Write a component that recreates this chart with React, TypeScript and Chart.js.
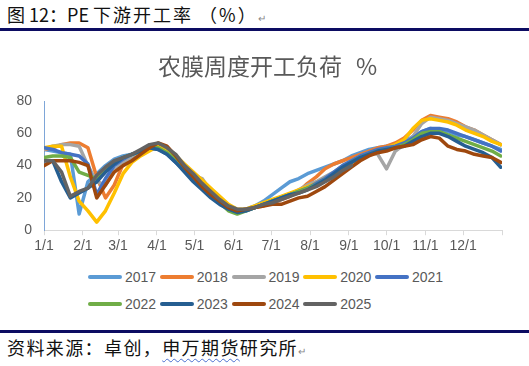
import React, { useEffect, useRef } from "react";
import { Chart, registerables } from "chart.js";

Chart.register(...registerables);

// x positions (day of year, weekly)
const weekDays = [0, 7, 14, 21, 28, 35, 42, 49, 56, 63, 70, 77, 84, 91, 98, 105, 112, 119, 126, 133, 140, 147, 154, 161, 168, 175, 182, 189, 196, 203, 210, 217, 224, 231, 238, 245, 252, 259, 266, 273, 280, 287, 294, 301, 308, 315, 322, 329, 336, 343, 350, 357, 364];

const tickDays = [0, 31, 59, 90, 120, 151, 181, 212, 243, 273, 304, 334, 365];
const tickLabels = ["1/1", "2/1", "3/1", "4/1", "5/1", "6/1", "7/1", "8/1", "9/1", "10/1", "11/1", "12/1", ""];

const yTicks = [0, 20, 40, 60, 80];

const years = ["2017", "2018", "2019", "2020", "2021", "2022", "2023", "2024", "2025"];
const colors = ["#5B9BD5", "#ED7D31", "#A5A5A5", "#FFC000", "#4472C4", "#70AD47", "#255E91", "#9E480E", "#636363"];

const s2017 = [50, 49, 48, 47, 10, 30, 35, 40, 44, 46, 47, 49, 51, 51, 48, 43, 38, 32, 27, 22, 18, 14, 12, 13, 15, 18, 22, 26, 30, 32, 35, 37, 39, 41, 43, 46, 48, 50, 51, 52, 53, 55, 58, 61, 63, 62, 61, 59, 58, 56, 54, 52, 50];
const s2018 = [50, 51, 53, 54, 54, 51, 33, 20, 28, 41, 46, 48, 50, 52, 50, 45, 40, 33, 28, 23, 19, 15, 12, 13, 14, 15, 17, 19, 21, 24, 29, 33, 38, 41, 43, 45, 47, 49, 51, 52, 54, 57, 62, 68, 71, 70, 69, 67, 64, 62, 59, 56, 53];
const s2019 = [50, 52, 53, 53, 52, 40, 30, 28, 37, 42, 45, 48, 50, 51, 49, 45, 40, 34, 32, 24, 19, 14, 12, 13, 14, 16, 18, 20, 22, 25, 28, 30, 33, 36, 40, 43, 46, 48, 47, 38, 49, 53, 58, 66, 70, 69, 68, 66, 64, 62, 59, 56, 53];
const s2020 = [51, 52, 52, 33, 18, 12, 5, 12, 23, 35, 42, 46, 49, 52, 50, 46, 41, 36, 31, 26, 21, 16, 13, 13, 15, 17, 19, 21, 23, 25, 27, 29, 32, 35, 38, 42, 45, 47, 49, 51, 53, 56, 63, 68, 69, 68, 67, 65, 62, 60, 58, 55, 53];
const s2021 = [51, 50, 48, 47, 46, 41, 22, 32, 40, 44, 47, 49, 51, 50, 47, 42, 37, 31, 26, 21, 17, 13, 11, 12, 14, 16, 18, 20, 22, 24, 26, 29, 32, 36, 40, 43, 46, 48, 50, 51, 52, 54, 57, 61, 63, 63, 62, 60, 58, 56, 54, 52, 49];
const s2022 = [45, 46, 46, 45, 36, 34, 32, 38, 42, 45, 47, 49, 51, 51, 48, 44, 39, 33, 28, 22, 17, 12, 10, 12, 14, 16, 18, 20, 22, 24, 26, 28, 31, 34, 38, 42, 45, 47, 49, 50, 51, 53, 56, 60, 61, 61, 59, 57, 55, 53, 51, 49, 46];
const s2023 = [43, 43, 30, 20, 23, 26, 30, 36, 41, 45, 47, 49, 51, 50, 47, 42, 36, 30, 25, 20, 16, 13, 11, 12, 14, 16, 18, 20, 22, 23, 25, 28, 31, 35, 39, 42, 45, 47, 49, 50, 51, 52, 55, 58, 60, 60, 58, 55, 52, 50, 48, 45, 39];
const s2024 = [40, 43, 43, 43, 42, 40, 20, 28, 36, 40, 43, 47, 51, 54, 52, 46, 39, 33, 27, 22, 18, 14, 12, 13, 14, 15, 16, 16, 18, 20, 21, 24, 27, 31, 35, 39, 43, 46, 48, 49, 51, 52, 53, 56, 58, 57, 52, 50, 49, 47, 46, 45, 42];
const s2025 = [43, 43, 36, 21, 24, 26, 34, 39, 43, 45, 47, 50, 53, 54, 51, 47, 40, 35, 29, 24, 19, 15, 13, 13, 14, 16, 17, 19, 21, 23, 25, 27, 30, 33, 37, 40];

const seriesValues = [s2017, s2018, s2019, s2020, s2021, s2022, s2023, s2024, s2025];

const chartTitle = "农膜周度开工负荷";
const chartUnit = "%";

const TEXT = "#595959";
const LATIN = '"Liberation Sans", Arial, sans-serif';
const CJK = '"Noto Sans CJK SC", "Noto Sans", sans-serif';

export default function App() {
  const ref = useRef<HTMLCanvasElement | null>(null);

  useEffect(() => {
    if (!ref.current) return;
    const datasets = years.map((y, k) => ({
      label: y,
      data: seriesValues[k].map((v, i) => ({ x: weekDays[i], y: v })),
      borderColor: colors[k],
      backgroundColor: colors[k],
      borderWidth: 3.5,
      pointRadius: 0,
      pointHoverRadius: 0,
      tension: 0,
      fill: false,
      borderCapStyle: "round" as const,
      borderJoinStyle: "round" as const,
      order: -k,
    }));
    const chart = new Chart(ref.current, {
      type: "line",
      data: { datasets },
      options: {
        animation: false,
        responsive: false,
        maintainAspectRatio: false,
        events: [],
        layout: { padding: { left: 0, right: 27, top: 70, bottom: 4 } },
        plugins: {
          legend: { display: false },
          tooltip: { enabled: false },
          title: { display: false },
        },
        scales: {
          x: {
            type: "linear",
            min: 0,
            max: 365,
            afterBuildTicks: (s: any) => {
              s.ticks = tickDays.map((v) => ({ value: v }));
            },
            ticks: {
              autoSkip: false,
              maxRotation: 0,
              minRotation: 0,
              padding: 3,
              color: TEXT,
              font: { family: LATIN, size: 14 },
              callback: (_v: any, i: number) => tickLabels[i],
            },
            grid: { drawOnChartArea: false, drawTicks: true, tickLength: 5, color: "#D9D9D9" },
            border: { color: "#D9D9D9", width: 1 },
          },
          y: {
            type: "linear",
            min: 0,
            max: 80,
            afterBuildTicks: (s: any) => {
              s.ticks = yTicks.map((v) => ({ value: v }));
            },
            afterFit: (s: any) => {
              s.width = 44;
            },
            ticks: {
              padding: 12,
              color: TEXT,
              font: { family: LATIN, size: 14 },
            },
            grid: { drawOnChartArea: false, drawTicks: false, color: "#7EA6D8" },
            border: { color: "#7EA6D8", width: 1 },
          },
        },
      },
    } as any);
    return () => chart.destroy();
  }, []);

  const legendRows = [years.slice(0, 5), years.slice(5)];

  return (
    <div style={{ position: "relative", width: 529, height: 366, background: "#fff", overflow: "hidden" }}>
      <style>{"body{margin:0;}"}</style>
      <div
        style={{
          position: "absolute",
          left: 7,
          top: 4,
          fontFamily: CJK,
          fontSize: 18,
          lineHeight: "20px",
          color: "#111",
          whiteSpace: "nowrap",
        }}
      >
        图 12：PE <span style={{ letterSpacing: 2 }}>下游开工率 （%）</span>
        <span style={{ fontSize: 10, color: "#888" }}>↵</span>
      </div>
      <div style={{ position: "absolute", left: 0, top: 28, width: 529, height: 3, background: "#0c0c62" }} />
      <canvas
        ref={ref}
        width={529}
        height={231}
        style={{ position: "absolute", left: 0, top: 31, width: 529, height: 231, display: "block" }}
      />
      <div
        style={{
          position: "absolute",
          left: 158,
          top: 51,
          fontFamily: CJK,
          fontSize: 23,
          lineHeight: "28px",
          color: TEXT,
          whiteSpace: "nowrap",
        }}
      >
        {chartTitle}
        <span style={{ marginLeft: 14 }}>{chartUnit}</span>
      </div>
      {legendRows.map((row, r) =>
        row.map((y, k) => {
          const idx = r * 5 + k;
          const left = 88 + k * 71.75;
          const cy = r === 0 ? 277 : 304;
          return (
            <React.Fragment key={y}>
              <div
                style={{
                  position: "absolute",
                  left,
                  top: cy - 2,
                  width: 34,
                  height: 4,
                  borderRadius: 2,
                  background: colors[idx],
                }}
              />
              <span
                style={{
                  position: "absolute",
                  left: left + 37,
                  top: cy - 9,
                  fontFamily: LATIN,
                  fontSize: 14,
                  lineHeight: "18px",
                  color: TEXT,
                  whiteSpace: "nowrap",
                }}
              >
                {y}
              </span>
            </React.Fragment>
          );
        })
      )}
      <div style={{ position: "absolute", left: 0, top: 330, width: 529, height: 3, background: "#0c0c62" }} />
      <div
        style={{
          position: "absolute",
          left: 7,
          top: 337,
          fontFamily: CJK,
          fontSize: 18,
          lineHeight: "20px",
          letterSpacing: 1.4,
          color: "#111",
          whiteSpace: "nowrap",
        }}
      >
        资料来源：卓创，
        <span style={{ textDecoration: "underline wavy #4a6fd0", textDecorationThickness: 1, textUnderlineOffset: 3 }}>
          申万期货
        </span>
        研究所
        <span style={{ fontSize: 10, color: "#888", letterSpacing: 0 }}>↵</span>
      </div>
    </div>
  );
}
